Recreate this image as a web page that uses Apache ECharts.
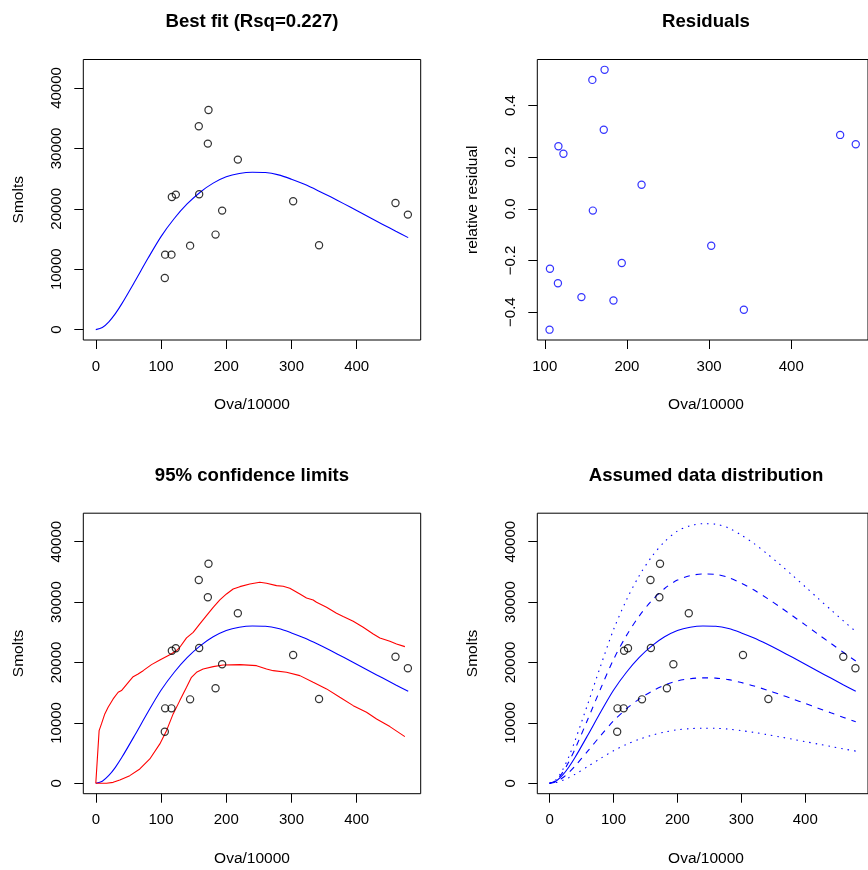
<!DOCTYPE html>
<html>
<head>
<meta charset="utf-8">
<script src="https://cdn.jsdelivr.net/npm/echarts@6/dist/echarts.min.js"></script>
<style>
html,body{margin:0;padding:0;background:#fff;}
#chart{width:868px;height:870px;}
</style>
</head>
<body>
<div id="chart"></div>
<script>
// ---- observed data ----
const ova = [172.8, 157.9, 171.8, 217.8, 116.6, 122.7, 158.5, 193.7, 302.6, 459.5, 478.5, 183.6, 144.6, 342.3, 106.3, 116.0, 105.8];
const smolts = [36358, 33660, 30795, 28146, 21954, 22350, 22400, 19700, 21240, 20960, 19040, 15730, 13900, 13960, 12410, 12410, 8540];
const residuals = [0.538, 0.499, 0.306, 0.093, 0.242, 0.213, -0.007, -0.210, -0.143, 0.286, 0.250, -0.355, -0.342, -0.391, -0.232, -0.288, -0.468];

// ---- fitted curve and assumed distribution bands ----
const curveX = [0, 10, 20, 30, 40, 60, 80, 100, 120, 140, 160, 180, 200, 220, 240, 260, 280, 300, 320, 340, 360, 380, 400, 420, 440, 460, 479];
const fitY = [0, 350, 1300, 2650, 4300, 8000, 11800, 15400, 18350, 20800, 22750, 24250, 25300, 25850, 26050, 26000, 25620, 24900, 24050, 23050, 21980, 20860, 19720, 18560, 17420, 16280, 15230];
const dottedUpperY = [0, 580, 2150, 4370, 7100, 13200, 19470, 25410, 30280, 34320, 37540, 40010, 41750, 42650, 42980, 42900, 42270, 41090, 39680, 38030, 36270, 34420, 32540, 30620, 28740, 26860, 25130];
const dashedUpperY = [0, 465, 1730, 3525, 5720, 10640, 15690, 20480, 24410, 27660, 30260, 32250, 33650, 34380, 34650, 34580, 34070, 33120, 31990, 30660, 29230, 27740, 26230, 24680, 23170, 21650, 20260];
const dashedLowerY = [0, 235, 870, 1775, 2880, 5360, 7910, 10320, 12300, 13940, 15240, 16250, 16950, 17320, 17450, 17420, 17170, 16680, 16110, 15440, 14730, 13980, 13210, 12440, 11670, 10910, 10200];
const dottedLowerY = [0, 120, 455, 930, 1505, 2800, 4130, 5390, 6420, 7280, 7960, 8490, 8860, 9050, 9120, 9100, 8970, 8720, 8420, 8070, 7690, 7300, 6900, 6500, 6100, 5700, 5330];

// ---- 95% confidence limits ----
const ciUpperX = [0, 5.1, 8.7, 13.8, 18.9, 26.6, 34.3, 39.4, 52.1, 57.3, 64.9, 72.6, 85.4, 98.2, 113.5, 123.7, 128.8, 139.1, 149.3, 159.5, 169.7, 180.0, 190.2, 200.4, 210.6, 220.9, 236.2, 251.5, 261.8, 277.1, 287.3, 297.5, 312.9, 323.1, 333.3, 338.4, 353.8, 369.1, 379.3, 394.7, 410.0, 425.4, 435.6, 450.9, 461.1, 473.9];
const ciUpperY = [0, 8720, 9830, 11490, 12580, 13970, 15070, 15350, 17000, 17660, 18110, 18650, 19650, 20430, 21300, 21970, 22520, 24070, 25000, 26390, 27760, 29140, 30360, 31350, 32180, 32560, 33010, 33280, 33110, 32730, 32620, 32290, 31350, 30690, 30360, 29970, 29140, 28150, 27600, 26820, 25830, 24730, 24070, 23510, 23080, 22630];
const ciLowerX = [0, 16.4, 26.6, 36.8, 52.1, 67.5, 82.8, 98.2, 108.4, 118.6, 128.8, 139.1, 146.7, 154.4, 164.6, 180.0, 195.3, 220.9, 246.4, 261.8, 272.0, 292.4, 312.9, 333.3, 353.8, 374.2, 394.7, 415.1, 430.5, 450.9, 473.9];
const ciLowerY = [0, 0, 160, 550, 1270, 2380, 4030, 6520, 8720, 11490, 13690, 15890, 17550, 18380, 18940, 19320, 19600, 19650, 19480, 18940, 18650, 18380, 17830, 16720, 15630, 14240, 12860, 11760, 10660, 9390, 7730];

// ---- tick labels ----
const xTicks = [0, 100, 200, 300, 400];
const xTicksResid = [100, 200, 300, 400];
const yTicks = [0, 10000, 20000, 30000, 40000];
const yTicksResid = [-0.4, -0.2, 0.0, 0.2, 0.4];

const titles = ['Best fit (Rsq=0.227)', 'Residuals', '95% confidence limits', 'Assumed data distribution'];
const xTitle = 'Ova/10000';
const yTitles = ['Smolts', 'relative residual', 'Smolts', 'Smolts'];

// ---- layout ----
const FONT = 'Liberation Sans, Arial, Helvetica, sans-serif';
const boxW = 337.4, boxH = 280.5;
const lefts = [83.3, 537.3, 83.3, 537.3];
const tops = [59.5, 59.5, 513.2, 513.2];
// open-circle marker (ring) as a path symbol
const RING = 'path://M0,-10A10,10,0,1,1,0,10A10,10,0,1,1,0,-10ZM0,-7.1A7.1,7.1,0,1,0,0,7.1A7.1,7.1,0,1,0,0,-7.1Z';

const pairs = (xs, ys) => xs.map((x, i) => [x, ys[i]]);

function fmtResid(v) {
  const s = Math.abs(v).toFixed(1);
  return v < 0 ? '\u2212' + s : s;
}

function xAxisDef(idx, min, max, ticks) {
  return {
    type: 'value', gridIndex: idx, min: min, max: max, position: 'bottom',
    axisLine: {show: false, onZero: false},
    splitLine: {show: false},
    axisTick: {show: true, inside: false, length: 9, customValues: ticks, lineStyle: {color: '#000', width: 1}},
    axisLabel: {show: true, customValues: ticks, margin: 19, color: '#000', fontSize: 15, fontFamily: FONT}
  };
}
function yAxisDef(idx, min, max, ticks, fmt) {
  return {
    type: 'value', gridIndex: idx, min: min, max: max, position: 'left',
    axisLine: {show: false, onZero: false},
    splitLine: {show: false},
    axisTick: {show: true, inside: false, length: 9, customValues: ticks, lineStyle: {color: '#000', width: 1}},
    axisLabel: {show: true, customValues: ticks, rotate: 90, margin: 19, color: '#000', fontSize: 15, fontFamily: FONT,
      formatter: fmt || (v => String(v))}
  };
}

const XMIN = -19.16, XMAX = 498.16;
const YMIN = -1720, YMAX = 44720;

const ringSeries = (gi, xs, ys, color) => ({
  type: 'scatter', xAxisIndex: gi, yAxisIndex: gi,
  data: pairs(xs, ys), symbol: RING, symbolSize: 8.4,
  color: color,
  itemStyle: {color: color, borderWidth: 0},
  emphasis: {disabled: true},
  z: 5, silent: true
});
const lineSeries = (gi, xs, ys, color, type, smooth) => ({
  type: 'line', xAxisIndex: gi, yAxisIndex: gi,
  data: pairs(xs, ys), showSymbol: false, symbol: 'none',
  smooth: smooth ? 0.3 : false,
  color: color,
  lineStyle: {color: color, width: 1.1, type: type || 'solid'},
  emphasis: {disabled: true},
  z: 3, silent: true
});

const graphics = [];
for (let i = 0; i < 4; i++) {
  const cx = lefts[i] + boxW / 2;
  const cy = tops[i] + boxH / 2;
  graphics.push({
    type: 'text', x: cx, y: tops[i] - 37.6,
    style: {text: titles[i], fontSize: 18.6, fontWeight: 'bold', fontFamily: FONT, fill: '#000',
      align: 'center', verticalAlign: 'middle', textAlign: 'center', textVerticalAlign: 'middle'}
  });
  graphics.push({
    type: 'text', x: cx, y: tops[i] + boxH + 65,
    style: {text: xTitle, fontSize: 15.5, fontFamily: FONT, fill: '#000',
      align: 'center', verticalAlign: 'middle', textAlign: 'center', textVerticalAlign: 'middle'}
  });
  graphics.push({
    type: 'text', x: lefts[i] - 65, y: cy, rotation: Math.PI / 2,
    style: {text: yTitles[i], fontSize: 15.5, fontFamily: FONT, fill: '#000',
      align: 'center', verticalAlign: 'middle', textAlign: 'center', textVerticalAlign: 'middle'}
  });
}

const option = {
  animation: false,
  backgroundColor: '#fff',
  grid: lefts.map((l, i) => ({
    left: l, top: tops[i], width: boxW, height: boxH,
    show: true, borderColor: '#000', borderWidth: 1, backgroundColor: 'rgba(0,0,0,0)',
    containLabel: false
  })),
  xAxis: [
    xAxisDef(0, XMIN, XMAX, xTicks),
    xAxisDef(1, 90.9, 493.4, xTicksResid),
    xAxisDef(2, XMIN, XMAX, xTicks),
    xAxisDef(3, XMIN, XMAX, xTicks)
  ],
  yAxis: [
    yAxisDef(0, YMIN, YMAX, yTicks),
    yAxisDef(1, -0.508, 0.578, yTicksResid, fmtResid),
    yAxisDef(2, YMIN, YMAX, yTicks),
    yAxisDef(3, YMIN, YMAX, yTicks)
  ],
  graphic: graphics,
  series: [
    // panel 1
    ringSeries(0, ova, smolts, '#000000'),
    lineSeries(0, curveX, fitY, '#0000ff', 'solid', true),
    // panel 2
    ringSeries(1, ova, residuals, '#0000ff'),
    // panel 3
    ringSeries(2, ova, smolts, '#000000'),
    lineSeries(2, curveX, fitY, '#0000ff', 'solid', true),
    lineSeries(2, ciUpperX, ciUpperY, '#ff0000', 'solid', false),
    lineSeries(2, ciLowerX, ciLowerY, '#ff0000', 'solid', false),
    // panel 4
    ringSeries(3, ova, smolts, '#000000'),
    lineSeries(3, curveX, fitY, '#0000ff', 'solid', true),
    lineSeries(3, curveX, dashedUpperY, '#0000ff', [6, 6], true),
    lineSeries(3, curveX, dashedLowerY, '#0000ff', [6, 6], true),
    lineSeries(3, curveX, dottedUpperY, '#0000ff', [1.5, 5], true),
    lineSeries(3, curveX, dottedLowerY, '#0000ff', [1.5, 5], true)
  ]
};

const chart = echarts.init(document.getElementById('chart'), null, {renderer: 'canvas'});
chart.setOption(option);
</script>
</body>
</html>
